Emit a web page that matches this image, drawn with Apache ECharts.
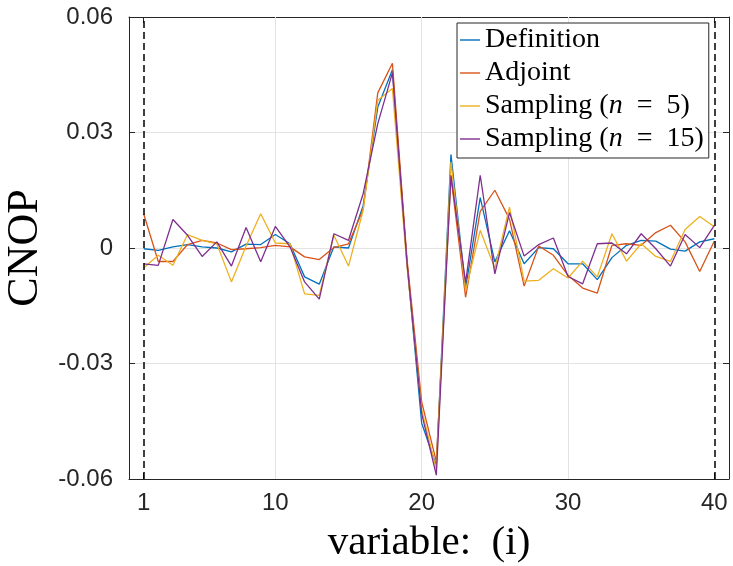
<!DOCTYPE html>
<html>
<head>
<meta charset="utf-8">
<script src="https://cdn.jsdelivr.net/npm/echarts@6/dist/echarts.min.js"></script>
<style>
html,body{margin:0;padding:0;background:#fff;}
#chart{width:733px;height:566px;}
</style>
</head>
<body>
<div id="chart"></div>
<script>
// variable index i = 1..40
const variables = Array.from({length: 40}, (_, k) => k + 1);
const definition = [-0.0002,-0.0006,0.0003,0.0009,0.0003,0.0000,-0.0010,0.0010,0.0009,0.0035,
  0.0011,-0.0075,-0.0094,0.0003,0.0000,0.0110,0.0366,0.0463,-0.0040,-0.0455,
  -0.0565,0.0243,-0.0105,0.0131,-0.0036,0.0045,-0.0041,0.0001,-0.0002,-0.0041,
  -0.0041,-0.0082,-0.0025,0.0007,0.0020,0.0018,-0.0003,-0.0008,0.0016,0.0024];
const adjoint = [0.0089,-0.0035,-0.0035,0.0009,0.0020,0.0013,-0.0004,-0.0002,0.0001,0.0007,
  0.0003,-0.0023,-0.0030,0.0001,0.0011,0.0100,0.0403,0.0480,-0.0030,-0.0400,
  -0.0555,0.0185,-0.0128,0.0095,0.0150,0.0075,-0.0099,0.0005,-0.0019,-0.0071,
  -0.0104,-0.0117,0.0007,0.0011,0.0007,0.0040,0.0059,0.0016,-0.0061,0.0018];
const sampling5 = [-0.0052,-0.0019,-0.0045,0.0035,0.0020,0.0011,-0.0088,0.0005,0.0089,0.0013,
  0.0011,-0.0119,-0.0123,0.0033,-0.0047,0.0098,0.0384,0.0414,-0.0050,-0.0420,
  -0.0575,0.0223,-0.0110,0.0046,-0.0053,0.0106,-0.0086,-0.0084,-0.0054,-0.0078,
  -0.0034,-0.0075,0.0037,-0.0034,0.0011,-0.0022,-0.0035,0.0048,0.0082,0.0055];
const sampling15 = [-0.0041,-0.0045,0.0074,0.0033,-0.0022,0.0016,-0.0047,0.0053,-0.0036,0.0056,
  0.0003,-0.0088,-0.0133,0.0037,0.0020,0.0141,0.0323,0.0455,-0.0040,-0.0430,
  -0.0590,0.0189,-0.0090,0.0189,-0.0067,0.0092,-0.0021,0.0009,0.0026,-0.0074,
  -0.0093,0.0011,0.0013,-0.0015,0.0037,-0.0002,-0.0047,0.0035,0.0001,0.0059];
const xTicks = [1, 10, 20, 30, 40];
const xGrid = [10, 20, 30];
const boundaryLines = [1, 40];
const seriesNames = ['Definition', 'Adjoint', 'Sampling (n = 5)', 'Sampling (n = 15)'];

const colors = ['#0072BD', '#D95319', '#EDB120', '#7E2F8E'];
const axisColor = '#262626';
const tickFont = 'Liberation Sans, Arial, Helvetica, sans-serif';
const serif = 'Liberation Serif, Times New Roman, serif';

const chart = echarts.init(document.getElementById('chart'), null, {renderer: 'canvas'});

function pairs(arr) { return arr.map((v, k) => [variables[k], v]); }
const allSeries = [definition, adjoint, sampling5, sampling15];

const xBase = {
  type: 'value', min: 0, max: 41,
  axisLine: {show: true, onZero: false, lineStyle: {color: axisColor, width: 1}},
  splitLine: {show: false}
};
const yBase = {
  type: 'value', min: -0.06, max: 0.06, interval: 0.03,
  axisLine: {show: true, onZero: false, lineStyle: {color: axisColor, width: 1}},
  axisTick: {show: true, inside: true, length: 6, lineStyle: {color: axisColor}},
};

const option = {
  animation: false,
  backgroundColor: '#ffffff',
  grid: {left: 129, right: 4, top: 17, bottom: 87, containLabel: false, outerBoundsMode: 'none'},
  xAxis: [
    Object.assign({}, xBase, {
      position: 'bottom',
      name: 'variable:  (i)', nameLocation: 'middle', nameGap: 44,
      nameTextStyle: {fontFamily: serif, fontSize: 41, color: '#000'},
      axisTick: {show: true, inside: true, length: 6, customValues: xTicks, lineStyle: {color: axisColor}},
      axisLabel: {show: true, customValues: xTicks, margin: 12, fontFamily: tickFont, fontSize: 24, color: axisColor}
    }),
    Object.assign({}, xBase, {
      position: 'top',
      axisTick: {show: true, inside: true, length: 6, customValues: xTicks, lineStyle: {color: axisColor}},
      axisLabel: {show: false}
    })
  ],
  yAxis: [
    Object.assign({}, yBase, {
      position: 'left',
      name: 'CNOP', nameLocation: 'middle', nameGap: 81, nameRotate: 90,
      nameTextStyle: {fontFamily: serif, fontSize: 44, color: '#000'},
      splitLine: {show: true, lineStyle: {color: '#e3e3e3', width: 1}},
      axisLabel: {show: true, margin: 16, fontFamily: tickFont, fontSize: 24, color: axisColor,
        formatter: v => String(Number(v.toFixed(2)))}
    }),
    Object.assign({}, yBase, {
      position: 'right',
      splitLine: {show: false},
      axisLabel: {show: false}
    })
  ],
  legend: {
    orient: 'vertical',
    left: 457, top: 23,
    data: seriesNames,
    icon: 'rect',
    backgroundColor: '#ffffff',
    borderColor: '#262626', borderWidth: 1,
    padding: [2, 5, 4, 3],
    itemWidth: 20, itemHeight: 1.4, itemGap: 3,
    textStyle: {
      fontFamily: serif, fontSize: 28, color: '#000', lineHeight: 30,
      rich: {
        r: {fontFamily: serif, fontSize: 28, color: '#000', lineHeight: 30},
        i: {fontFamily: serif, fontSize: 28, color: '#000', fontStyle: 'italic', lineHeight: 30}
      }
    },
    formatter: name => {
      const m = name.match(/^(.*\()n = (.*)$/);
      if (m) return '{r|' + m[1] + '}{i|n}{r|\u2002=\u2002' + m[2] + '}';
      return '{r|' + name + '}';
    }
  },
  series: [
    {
      type: 'line', name: '__grid', data: [], silent: true, z: 0,
      markLine: {
        silent: true, symbol: 'none', z: 1, animation: false,
        label: {show: false},
        lineStyle: {color: '#e3e3e3', width: 1, type: 'solid'},
        data: xGrid.map(v => ({xAxis: v}))
      }
    }
  ].concat(allSeries.map((arr, k) => ({
    type: 'line', name: seriesNames[k], data: pairs(arr),
    symbol: 'none', showSymbol: false, z: 2,
    lineStyle: {color: colors[k], width: 1.3},
    itemStyle: {color: colors[k]},
    markLine: k === 0 ? {
      silent: true, symbol: 'none', z: 6, animation: false,
      label: {show: false},
      lineStyle: {color: '#000', width: 1.5, type: [7, 4]},
      data: boundaryLines.map(v => ({xAxis: v}))
    } : undefined
  })))
};
chart.setOption(option);
</script>
</body>
</html>
